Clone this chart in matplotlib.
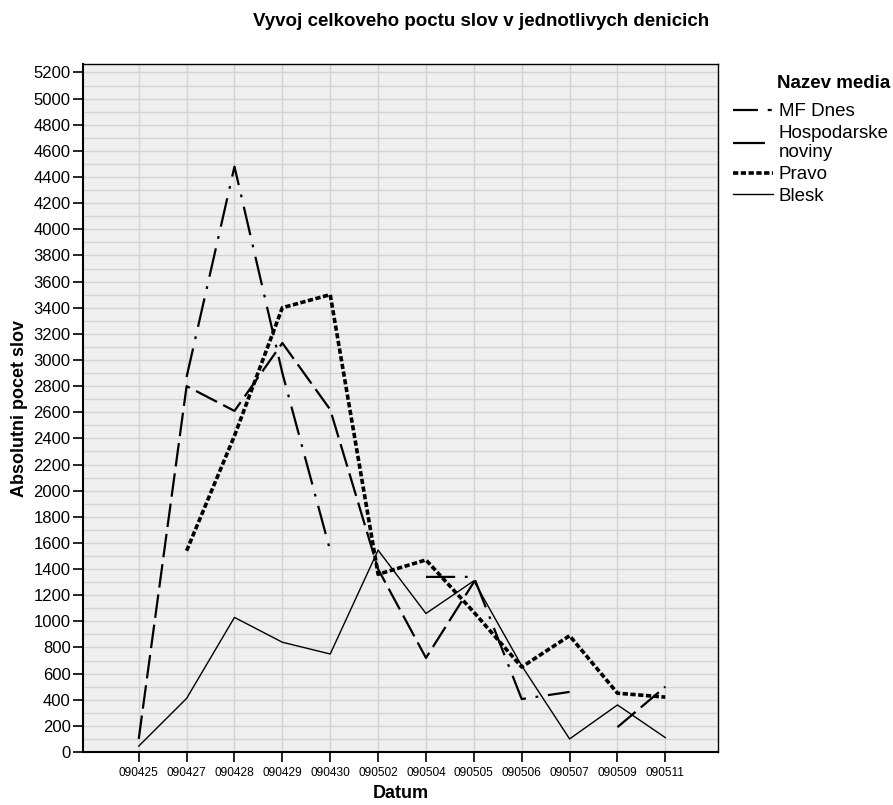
import numpy as np
import matplotlib
matplotlib.use('Agg')
import matplotlib.pyplot as plt
from matplotlib.lines import Line2D
from matplotlib.ticker import MultipleLocator

plt.rcParams['font.family'] = ['Liberation Sans', 'DejaVu Sans']
plt.rcParams['lines.scale_dashes'] = False

nan = np.nan
dates = ['090425', '090427', '090428', '090429', '090430', '090502',
         '090504', '090505', '090506', '090507', '090509', '090511']
mf_dnes = [nan, 2870, 4480, 2900, 1540, nan, 1340, 1340, 405, 460, nan, nan]
hospodarske = [100, 2800, 2610, 3130, 2620, 1400, 720, 1300, nan, nan, 190, 500]
pravo = [nan, 1540, 2420, 3400, 3500, 1360, 1470, 1070, 650, 890, 450, 420]
blesk = [45, 410, 1030, 840, 750, 1545, 1060, 1310, 660, 100, 360, 110]
names = ['MF Dnes', 'Hospodarske\nnoviny', 'Pravo', 'Blesk']

W, H = 893, 805
fig = plt.figure(figsize=(W / 100, H / 100), dpi=100)
ax = fig.add_axes([83 / W, 1 - 752 / H, (718 - 83) / W, (752 - 64) / H])
ax.set_facecolor('#efefef')

x = np.arange(len(dates))
ax.plot(x, mf_dnes, color='black', lw=1.6, dashes=[21, 7, 2, 7])
ax.plot(x, hospodarske, color='black', lw=1.6, dashes=[17, 5])
ax.plot(x, pravo, color='black', lw=2.6, dashes=[3.8, 1.8])
ax.plot(x, blesk, color='black', lw=1.0)

ax.set_xlim(-1.164, 12.1)
ax.set_ylim(0, 5265)
ax.set_xticks(x)
ax.set_xticklabels(dates, fontsize=8.6)
ax.yaxis.set_major_locator(MultipleLocator(200))
ax.yaxis.set_minor_locator(MultipleLocator(100))
ax.tick_params(axis='y', which='major', labelsize=12, length=7, width=1.2, pad=2)
ax.tick_params(axis='y', which='minor', length=0)
ax.tick_params(axis='x', length=7, width=1.2, pad=4)
ax.set_axisbelow(True)
ax.grid(axis='y', which='both', color='#d4d4d4', lw=1.0)
ax.grid(axis='x', which='major', color='#d4d4d4', lw=1.0)
for s in ax.spines.values():
    s.set_color('black')
    s.set_linewidth(1.0)
ax.spines['left'].set_linewidth(1.5)
ax.spines['bottom'].set_linewidth(1.5)

ax.set_xlabel('Datum', fontsize=13, fontweight='bold', labelpad=4)
ax.set_ylabel('Absolutni pocet slov', fontsize=13, fontweight='bold', labelpad=4)
fig.text(481 / W, 1 - 22 / H, 'Vyvoj celkoveho poctu slov v jednotlivych denicich',
         ha='center', va='center', fontsize=13.5, fontweight='bold')

# legend title is aligned with the labels, so it is placed on its own
fig.text(777 / W, 1 - 83 / H, 'Nazev media', ha='left', va='center',
         fontsize=13.5, fontweight='bold')
handles = [
    Line2D([], [], color='black', lw=1.6, dashes=[18, 7, 2.9, 20]),
    Line2D([], [], color='black', lw=1.6, dashes=[23, 20]),
    Line2D([], [], color='black', lw=2.6, dashes=[3.8, 1.8]),
    Line2D([], [], color='black', lw=1.0),
]
leg = ax.legend(handles, names, loc='upper left', bbox_to_anchor=(733 / W, 1 - 103 / H),
                bbox_transform=fig.transFigure, frameon=False, fontsize=13.5,
                handlelength=2.13, handletextpad=0.3, labelspacing=0.25,
                borderaxespad=0, borderpad=0)

fig.savefig('out.png', dpi=100)
